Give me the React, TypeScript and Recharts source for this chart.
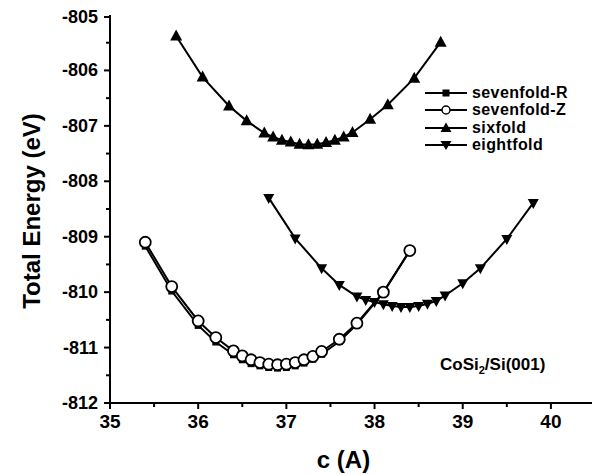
import { LineChart, Line, XAxis, YAxis } from 'recharts';

// lattice constant c (A) for each structure
const cSeven = [35.4, 35.7, 36.0, 36.2, 36.4, 36.5, 36.6, 36.7, 36.8, 36.9, 37.0, 37.1, 37.2, 37.3, 37.4, 37.6, 37.8, 38.1, 38.4];
const eSevenR = [-809.17, -809.98, -810.6, -810.9, -811.13, -811.22, -811.29, -811.33, -811.36, -811.37, -811.36, -811.33, -811.28, -811.21, -811.12, -810.89, -810.58, -810.01, -809.25];
const eSevenZ = [-809.1, -809.9, -810.52, -810.82, -811.06, -811.15, -811.22, -811.27, -811.3, -811.31, -811.3, -811.27, -811.22, -811.16, -811.07, -810.85, -810.56, -810.0, -809.25];

const cSix = [35.75, 36.05, 36.35, 36.55, 36.75, 36.85, 36.95, 37.05, 37.15, 37.25, 37.35, 37.45, 37.55, 37.65, 37.75, 37.95, 38.15, 38.45, 38.75];
const eSix = [-805.38, -806.12, -806.64, -806.91, -807.13, -807.2, -807.26, -807.29, -807.33, -807.34, -807.33, -807.3, -807.26, -807.2, -807.12, -806.88, -806.62, -806.14, -805.49];

const cEight = [36.8, 37.1, 37.4, 37.6, 37.8, 37.9, 38.0, 38.1, 38.2, 38.3, 38.4, 38.5, 38.6, 38.7, 38.8, 39.0, 39.2, 39.5, 39.8];
const eEight = [-808.3, -809.03, -809.57, -809.87, -810.08, -810.14, -810.18, -810.22, -810.25, -810.27, -810.27, -810.25, -810.21, -810.16, -810.06, -809.84, -809.57, -809.04, -808.39];

const xTicks = [35, 35.5, 36, 36.5, 37, 37.5, 38, 38.5, 39, 39.5, 40];
const yTicks = [-812, -811.5, -811, -810.5, -810, -809.5, -809, -808.5, -808, -807.5, -807, -806.5, -806, -805.5, -805];

const FONT = 'Arial, "Liberation Sans", sans-serif';

const toRows = (cs: number[], es: number[]) => cs.map((c, i) => ({ c, e: es[i] }));

const sevenR = toRows(cSeven, eSevenR);
const sevenZ = toRows(cSeven, eSevenZ);
const six = toRows(cSix, eSix);
const eight = toRows(cEight, eEight);

const Square = ({ cx, cy }: any) => <rect x={cx - 3.5} y={cy - 3.5} width={7} height={7} fill="#000" />;
const Circle = ({ cx, cy }: any) => <circle cx={cx} cy={cy} r={5.5} fill="#fff" stroke="#000" strokeWidth={1.8} />;
const TriUp = ({ cx, cy }: any) => (
  <polygon points={`${cx},${cy - 6.5} ${cx - 6},${cy + 4.5} ${cx + 6},${cy + 4.5}`} fill="#000" />
);
const TriDown = ({ cx, cy }: any) => (
  <polygon points={`${cx},${cy + 6} ${cx - 5.5},${cy - 4} ${cx + 5.5},${cy - 4}`} fill="#000" />
);

const XTick = ({ x, y, payload }: any) => {
  const major = Number.isInteger(payload.value);
  return (
    <g>
      <line x1={x} x2={x} y1={y} y2={y + (major ? 6 : 4)} stroke="#000" strokeWidth={2} />
      {major && (
        <text x={x} y={y + 25} textAnchor="middle" fontFamily={FONT} fontWeight="bold" fontSize={19} fill="#000">
          {payload.value}
        </text>
      )}
    </g>
  );
};

const YTick = ({ x, y, payload }: any) => {
  const major = Number.isInteger(payload.value);
  return (
    <g>
      <line x1={x} x2={x - (major ? 6 : 4)} y1={y} y2={y} stroke="#000" strokeWidth={2} />
      {major && (
        <text x={x - 12} y={y + 6} textAnchor="end" fontFamily={FONT} fontWeight="bold" fontSize={18} fill="#000">
          {payload.value}
        </text>
      )}
    </g>
  );
};

const legendItems = [
  { name: 'sevenfold-R', icon: 'square' },
  { name: 'sevenfold-Z', icon: 'circle' },
  { name: 'sixfold', icon: 'up' },
  { name: 'eightfold', icon: 'down' },
];

const LegendIcon = ({ icon }: { icon: string }) => (
  <svg width={44} height={14} style={{ display: 'block' }}>
    <line x1={0} x2={42} y1={7} y2={7} stroke="#000" strokeWidth={2} />
    {icon === 'square' && <rect x={17.5} y={3.5} width={7} height={7} fill="#000" />}
    {icon === 'circle' && <circle cx={21} cy={7} r={4} fill="#fff" stroke="#000" strokeWidth={1.5} />}
    {icon === 'up' && <polygon points="21,1.5 15.5,11 26.5,11" fill="#000" />}
    {icon === 'down' && <polygon points="21,12 15.5,3 26.5,3" fill="#000" />}
  </svg>
);

export default function App() {
  return (
    <div style={{ position: 'relative', width: 592, height: 466 }}>
      <LineChart width={592} height={466} margin={{ top: 7, right: 5, left: 0, bottom: 0 }}>
        <XAxis
          type="number"
          dataKey="c"
          domain={[35, 40.5]}
          ticks={xTicks}
          allowDataOverflow
          height={71}
          tickSize={0}
          tickMargin={0}
          tick={<XTick />}
          axisLine={{ stroke: '#000', strokeWidth: 2 }}
          tickLine={false}
          label={{
            content: ({ viewBox }: any) => (
              <text
                x={viewBox.x + viewBox.width / 2 - 9}
                y={viewBox.y + 65}
                textAnchor="middle"
                fontFamily={FONT}
                fontWeight="bold"
                fontSize={24}
                fill="#000"
              >
                c (A)
              </text>
            ),
          }}
        />
        <YAxis
          type="number"
          domain={[-812, -805]}
          ticks={yTicks}
          allowDataOverflow
          width={102}
          tickSize={0}
          tickMargin={0}
          tick={<YTick />}
          axisLine={{ stroke: '#000', strokeWidth: 2 }}
          tickLine={false}
          label={{
            content: ({ viewBox }: any) => {
              const cx = 32;
              const cy = viewBox.y + viewBox.height / 2 + 2;
              return (
                <text
                  x={cx}
                  y={cy}
                  transform={`rotate(-90 ${cx} ${cy})`}
                  textAnchor="middle"
                  fontFamily={FONT}
                  fontWeight="bold"
                  fontSize={24}
                  fill="#000"
                >
                  Total Energy (eV)
                </text>
              );
            },
          }}
        />
        <Line data={eight} dataKey="e" stroke="#000" strokeWidth={2} dot={<TriDown />} isAnimationActive={false} />
        <Line data={sevenR} dataKey="e" stroke="#000" strokeWidth={2} dot={<Square />} isAnimationActive={false} />
        <Line data={sevenZ} dataKey="e" stroke="#000" strokeWidth={2} dot={<Circle />} isAnimationActive={false} />
        <Line data={six} dataKey="e" stroke="#000" strokeWidth={2} dot={<TriUp />} isAnimationActive={false} />
      </LineChart>
      <div style={{ position: 'absolute', left: 417, top: 76, fontFamily: FONT, fontWeight: 'bold', fontSize: 16 }}>
        {legendItems.map((it) => (
          <div key={it.name} style={{ display: 'flex', alignItems: 'center', height: 17.5 }}>
            <LegendIcon icon={it.icon} />
            <span style={{ marginLeft: 3, lineHeight: '16px', letterSpacing: 0.4 }}>{it.name}</span>
          </div>
        ))}
      </div>
      <div
        style={{ position: 'absolute', left: 432, top: 347, fontFamily: FONT, fontWeight: 'bold', fontSize: 17, whiteSpace: 'nowrap' }}
      >
        CoSi<sub style={{ fontSize: 11 }}>2</sub>/Si(001)
      </div>
    </div>
  );
}
